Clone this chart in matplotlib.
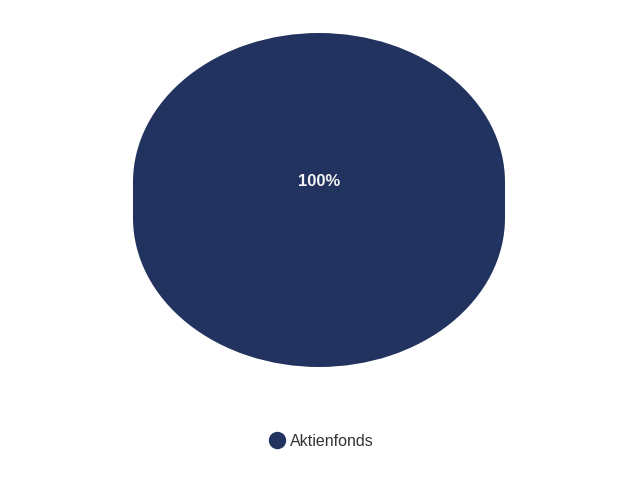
import matplotlib
matplotlib.use("Agg")
import matplotlib.pyplot as plt
from matplotlib.patches import Rectangle
from matplotlib.lines import Line2D

# data
labels = ["Aktienfonds"]
values = [100]
colors = ["#21335e"]

plt.rcParams["font.family"] = ["Liberation Sans", "DejaVu Sans"]

W, H = 640, 480
fig = plt.figure(figsize=(W / 100, H / 100), dpi=100)
ax = fig.add_axes([0, 0, 1, 1])

# pixel layout of the 3d pie
cx, cy = 319, 182      # centre of top face (px, from top)
rx, ry = 186, 149      # half axes of the top face
depth = 36 / ry        # side height in y-units

# bottom face, side, top face
ax.pie(values, colors=colors, radius=1, center=(0, -depth),
       startangle=90, counterclock=False, wedgeprops=dict(linewidth=0))
ax.add_patch(Rectangle((-1, -depth), 2, depth, facecolor=colors[0],
                       linewidth=0, zorder=0.5))
ax.pie(values, colors=colors, radius=1, center=(0, 0),
       startangle=90, counterclock=False, wedgeprops=dict(linewidth=0),
       autopct="%1.0f%%", pctdistance=0,
       textprops=dict(color="#f4f4f4", fontsize=12, fontweight="semibold"))

ax.set_aspect("auto")
ax.set_xlim(-cx / rx, (W - cx) / rx)
ax.set_ylim(-(H - cy) / ry, cy / ry)
ax.axis("off")

handles = [Line2D([], [], marker="o", linestyle="none", markersize=11.5,
                  markerfacecolor=c, markeredgecolor=c) for c in colors]
fig.legend(handles, labels, loc="center", bbox_to_anchor=(321 / W, 1 - 441 / H),
           frameon=False, fontsize=11.5, handletextpad=0.3, handlelength=1.0,
           labelcolor="#333333")

fig.savefig("out.png", dpi=100, facecolor="white")
